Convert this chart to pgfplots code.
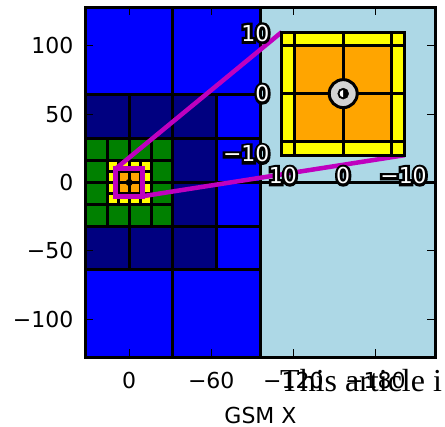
\documentclass[border=0pt]{standalone}
\usepackage{pgfplots}
\pgfplotsset{compat=1.18}
\usepackage{fontspec}
\setmainfont{DejaVu Sans}
\newfontfamily\wmfont{Liberation Serif}
\newfontface\outfont{DejaVu Sans}[FakeBold=24]
\definecolor{cblue}{RGB}{0,0,255}
\definecolor{cnavy}{RGB}{0,0,128}
\definecolor{cgreen}{RGB}{0,128,0}
\definecolor{cyellow}{RGB}{255,255,0}
\definecolor{corange}{RGB}{255,165,0}
\definecolor{clblue}{RGB}{173,216,230}
\definecolor{cgray}{RGB}{211,211,211}
\definecolor{cmag}{RGB}{191,0,191}
\newcommand\cell[5]{\addplot[draw=black, line width=3pt, fill=#5, forget plot] coordinates {(#1,#3) (#2,#3) (#2,#4) (#1,#4)} -- cycle;}
\newcommand\outl[1]{\rlap{\color{black}\outfont#1}{\color{white}#1}}
\pgfdeclareplotmark{lefthalf}{%
  \pgfpathmoveto{\pgfqpoint{0pt}{\pgfplotmarksize}}%
  \pgfpatharc{90}{270}{\pgfplotmarksize}%
  \pgfpathclose
  \pgfusepathqfill}
\begin{document}
\begin{tikzpicture}
\useasboundingbox (0,0) rectangle (445pt,427pt);
\begin{axis}[
  at={(85.5pt,69.5pt)}, anchor=south west,
  width=350pt, height=350pt, scale only axis,
  xmin=-224, xmax=32, ymin=-128, ymax=128, x dir=reverse,
  axis on top, axis line style={line width=3pt, black},
  xtick={-180,-120,-60,0}, xticklabels={−180,−120,−60,0},
  ytick={-100,-50,0,50,100}, yticklabels={−100,−50,0,50,100},
  tick align=inside, tick pos=both, major tick length=8pt,
  tick style={line width=1pt, black},
  tick label style={font=\fontsize{22}{26}\selectfont, inner sep=0pt},
  yticklabel style={xshift=-12pt},
  xticklabel style={yshift=-14pt},
  xlabel={GSM X},
  xlabel style={at={(axis description cs:0.5,0)}, anchor=north, inner sep=0pt, yshift=-49pt, font=\fontsize{22}{26}\selectfont},
]
% level 128
\cell{-224}{-96}{0}{128}{clblue}
\cell{-224}{-96}{-128}{0}{clblue}
% level 64
\cell{32}{-32}{64}{128}{cblue}
\cell{-32}{-96}{64}{128}{cblue}
\cell{32}{-32}{-128}{-64}{cblue}
\cell{-32}{-96}{-128}{-64}{cblue}
% level 32
\cell{-64}{-96}{32}{64}{cblue}
\cell{-64}{-96}{0}{32}{cblue}
\cell{-64}{-96}{-32}{0}{cblue}
\cell{-64}{-96}{-64}{-32}{cblue}
\cell{-32}{-64}{32}{64}{cnavy}
\cell{-32}{-64}{0}{32}{cnavy}
\cell{-32}{-64}{-32}{0}{cnavy}
\cell{-32}{-64}{-64}{-32}{cnavy}
\cell{32}{0}{32}{64}{cnavy}
\cell{0}{-32}{32}{64}{cnavy}
\cell{32}{0}{-64}{-32}{cnavy}
\cell{0}{-32}{-64}{-32}{cnavy}
% level 16
\cell{32}{16}{16}{32}{cgreen}
\cell{16}{0}{16}{32}{cgreen}
\cell{0}{-16}{16}{32}{cgreen}
\cell{-16}{-32}{16}{32}{cgreen}
\cell{32}{16}{-32}{-16}{cgreen}
\cell{16}{0}{-32}{-16}{cgreen}
\cell{0}{-16}{-32}{-16}{cgreen}
\cell{-16}{-32}{-32}{-16}{cgreen}
\cell{32}{16}{0}{16}{cgreen}
\cell{32}{16}{-16}{0}{cgreen}
\cell{-16}{-32}{0}{16}{cgreen}
\cell{-16}{-32}{-16}{0}{cgreen}
% level 8
\cell{16}{8}{8}{16}{cyellow}
\cell{8}{0}{8}{16}{cyellow}
\cell{0}{-8}{8}{16}{cyellow}
\cell{-8}{-16}{8}{16}{cyellow}
\cell{16}{8}{-16}{-8}{cyellow}
\cell{8}{0}{-16}{-8}{cyellow}
\cell{0}{-8}{-16}{-8}{cyellow}
\cell{-8}{-16}{-16}{-8}{cyellow}
\cell{16}{8}{0}{8}{cyellow}
\cell{16}{8}{-8}{0}{cyellow}
\cell{-8}{-16}{0}{8}{cyellow}
\cell{-8}{-16}{-8}{0}{cyellow}
\cell{8}{0}{0}{8}{corange}
\cell{0}{-8}{0}{8}{corange}
\cell{8}{0}{-8}{0}{corange}
\cell{0}{-8}{-8}{0}{corange}
% Earth
\addplot[only marks, mark=*, mark size=3.3pt, mark options={fill=black, draw=black}] coordinates {(0,0)};
% zoom box and connectors
\addplot[cmag, line width=5pt] coordinates {(10,10) (-10,10) (-10,-10) (10,-10)} -- cycle;
\addplot[cmag, line width=4.5pt] coordinates {(10,10) (-111.5,110)};
\addplot[cmag, line width=4.5pt] coordinates {(-10,-10) (-201.5,20)};
\end{axis}
\begin{axis}[
  at={(281.69pt,271.84pt)}, anchor=south west,
  width=123.05pt, height=123.05pt, scale only axis,
  xmin=-10.2, xmax=10.2, ymin=-10.2, ymax=10.2, x dir=reverse,
  axis on top, axis line style={line width=3pt, black},
  xtick={-10,0,10}, xticklabels={\outl{−10},\outl{0},\outl{10}},
  ytick={-10,0,10}, yticklabels={\outl{−10},\outl{0},\outl{10}},
  major tick length=0pt, tick style={draw=none},
  tick label style={font=\fontsize{22}{26}\selectfont, inner sep=0pt},
  yticklabel style={xshift=-12pt},
  xticklabel style={yshift=-12pt},
]
\cell{16}{8}{8}{16}{cyellow}
\cell{8}{0}{8}{16}{cyellow}
\cell{0}{-8}{8}{16}{cyellow}
\cell{-8}{-16}{8}{16}{cyellow}
\cell{16}{8}{-16}{-8}{cyellow}
\cell{8}{0}{-16}{-8}{cyellow}
\cell{0}{-8}{-16}{-8}{cyellow}
\cell{-8}{-16}{-16}{-8}{cyellow}
\cell{16}{8}{0}{8}{cyellow}
\cell{16}{8}{-8}{0}{cyellow}
\cell{-8}{-16}{0}{8}{cyellow}
\cell{-8}{-16}{-8}{0}{cyellow}
\cell{8}{0}{0}{8}{corange}
\cell{0}{-8}{0}{8}{corange}
\cell{8}{0}{-8}{0}{corange}
\cell{0}{-8}{-8}{0}{corange}
\addplot[only marks, mark=*, mark size=14pt, mark options={fill=cgray, draw=black, line width=3pt}] coordinates {(0,0)};
\addplot[only marks, mark=*, mark size=5.5pt, mark options={fill=black, draw=none}] coordinates {(0,0)};
\addplot[only marks, mark=lefthalf, mark size=3.6pt, mark options={fill=white, draw=none}] coordinates {(0,0)};
\end{axis}
\node[anchor=base west, inner sep=0pt, font=\wmfont\fontsize{32}{36}\selectfont] at (280pt,35.3pt) {This article i};
\end{tikzpicture}
\end{document}
